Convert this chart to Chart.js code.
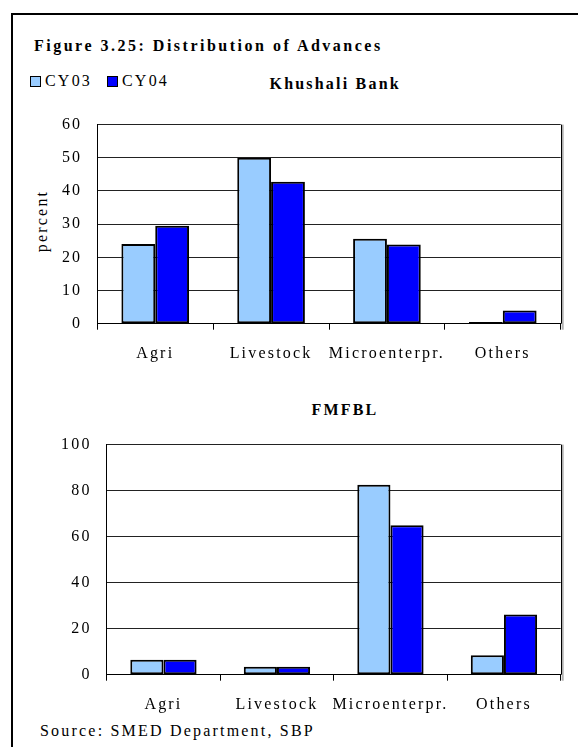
<!DOCTYPE html>
<html>
<head>
<meta charset="utf-8">
<script src="https://cdn.jsdelivr.net/npm/chart.js@4/dist/chart.umd.min.js"></script>
<style>
  html, body { margin: 0; padding: 0; background: #fff; }
  body { width: 578px; height: 747px; position: relative; overflow: hidden;
         font-family: "Liberation Serif", "Times New Roman", serif; color: #000; }
  .frame { position: absolute; left: 11px; top: 13px; width: 600px; height: 800px;
           border-left: 2px solid #000; border-top: 2px solid #000; }
  .txt { position: absolute; font-size: 16px; line-height: 20px; letter-spacing: 2.2px; white-space: nowrap; }
  .bold { font-weight: bold; }
  .sw { position: absolute; width: 9px; height: 9px; border: 1px solid #000; }
  canvas { position: absolute; left: 0; }
</style>
</head>
<body>
<div class="frame"></div>
<div class="txt bold" style="left:34px; top:36px; letter-spacing:2.5px;">Figure 3.25: Distribution of Advances</div>
<div id="legend"></div>
<div class="txt bold" id="t1" style="top:74px;">Khushali Bank</div>
<div class="txt bold" id="t2" style="top:400px;">FMFBL</div>
<div class="txt" id="ylab" style="left:42px; top:221px; transform: translate(-50%, -50%) rotate(-90deg);">percent</div>
<div class="txt" style="left:40px; top:721px;">Source: SMED Department, SBP</div>

<canvas id="top" width="578" height="270" style="top:100px;"></canvas>
<canvas id="bottom" width="578" height="300" style="top:420px;"></canvas>

<script>
// series and categories
const categories = ['Agri', 'Livestock', 'Microenterpr.', 'Others'];
const seriesNames = ['CY03', 'CY04'];
const seriesColors = ['#99CCFF', '#0000FF'];

const khushaliCY03 = [24, 50, 25.6, 0.5];
const khushaliCY04 = [29.5, 42.8, 23.9, 4];
const fmfblCY03 = [6.5, 3.5, 82.5, 8.5];
const fmfblCY04 = [6.5, 3.5, 65, 26.2];

const khushaliTicks = { min: 0, max: 60, step: 10 };
const fmfblTicks = { min: 0, max: 100, step: 20 };

// legend squares + labels
const legendEl = document.getElementById('legend');
const legendX = [30, 107];
seriesNames.forEach((name, i) => {
  const sw = document.createElement('div');
  sw.className = 'sw';
  sw.style.left = legendX[i] + 'px';
  sw.style.top = '76px';
  sw.style.background = seriesColors[i];
  legendEl.appendChild(sw);
  const t = document.createElement('div');
  t.className = 'txt';
  t.style.left = (legendX[i] + 15) + 'px';
  t.style.top = '71px';
  t.textContent = name;
  legendEl.appendChild(t);
});

// centre the panel titles
function centerAt(id, cx) {
  const el = document.getElementById(id);
  el.style.left = (cx - el.offsetWidth / 2) + 'px';
}
centerAt('t1', 335);
centerAt('t2', 345);

const font = { family: "'Liberation Serif', 'Times New Roman', serif", size: 16 };

// spaced-out lettering and the plot box right edge
const plotFrame = {
  id: 'plotFrame',
  beforeDraw(chart) { chart.ctx.letterSpacing = '2.2px'; },
  afterDraw(chart) {
    const { ctx, chartArea: a } = chart;
    ctx.save();
    ctx.strokeStyle = '#b0b0b0';
    ctx.lineWidth = 2;
    ctx.beginPath();
    ctx.moveTo(a.right + 2, a.top);
    ctx.lineTo(a.right + 2, a.bottom + 6);
    ctx.stroke();
    ctx.strokeStyle = '#000';
    ctx.lineWidth = 1;
    ctx.beginPath();
    ctx.moveTo(Math.round(a.right) + 0.5, a.top);
    ctx.lineTo(Math.round(a.right) + 0.5, a.bottom);
    ctx.stroke();
    ctx.restore();
  }
};

function makeChart(id, d1, d2, ticks, yWidth, padTop, xHeight) {
  return new Chart(document.getElementById(id), {
    type: 'bar',
    data: {
      labels: categories,
      datasets: [
        { label: seriesNames[0], data: d1, backgroundColor: seriesColors[0] },
        { label: seriesNames[1], data: d2, backgroundColor: seriesColors[1] }
      ]
    },
    options: {
      responsive: false,
      animation: false,
      devicePixelRatio: 1,
      layout: { padding: { top: padTop, right: 17.3, left: 0, bottom: 0 } },
      datasets: {
        bar: {
          categoryPercentage: 0.584,
          barPercentage: 1,
          borderColor: '#000',
          borderWidth: 2,
          borderSkipped: false
        }
      },
      plugins: { legend: { display: false }, title: { display: false }, tooltip: { enabled: false } },
      scales: {
        x: {
          afterFit: (s) => { s.height = xHeight; },
          grid: { drawOnChartArea: false, drawTicks: true, tickLength: 6, color: '#000' },
          border: { display: true, color: '#000', width: 1 },
          ticks: { color: '#000', font: font, padding: 14, maxRotation: 0, autoSkip: false }
        },
        y: {
          min: ticks.min,
          max: ticks.max,
          afterFit: (s) => { s.width = yWidth; },
          grid: { drawTicks: false, color: '#222', lineWidth: 1 },
          border: { display: true, color: '#000', width: 1 },
          ticks: { stepSize: ticks.step, color: '#000', font: font, padding: 15 }
        }
      }
    },
    plugins: [plotFrame]
  });
}

makeChart('top', khushaliCY03, khushaliCY04, khushaliTicks, 97.3, 21.3, 46.3);
makeChart('bottom', fmfblCY03, fmfblCY04, fmfblTicks, 106.7, 20.7, 45.3);
</script>
</body>
</html>
